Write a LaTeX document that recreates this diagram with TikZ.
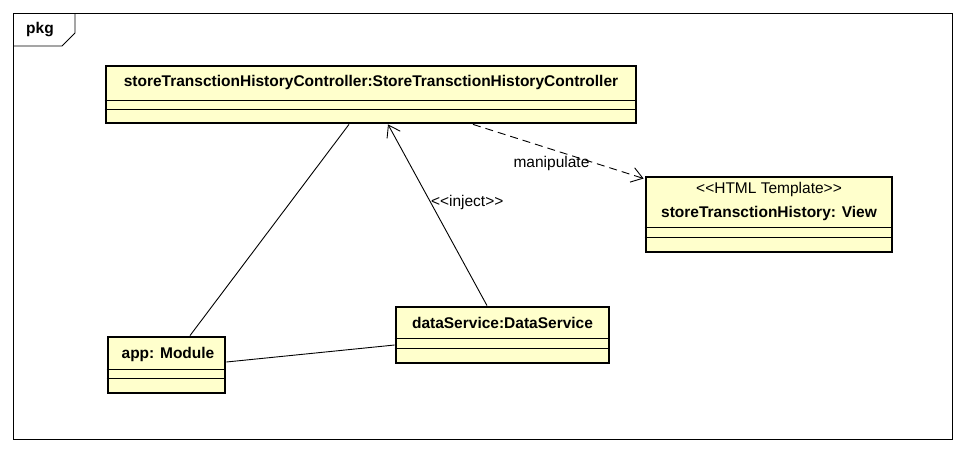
\documentclass[tikz,border=0pt]{standalone}
\usepackage{fontspec}
\setmainfont{Liberation Sans}
\usetikzlibrary{arrows.meta,positioning}
\definecolor{objfill}{RGB}{255,255,204}
\tikzset{
    obj box/.style={rectangle, draw=black, line width=2.8pt, fill=objfill, inner sep=0pt},
    obj name/.style={font=\fontsize{15.5}{18}\selectfont\bfseries, inner sep=0pt, align=center},
    obj stereo/.style={font=\fontsize{15.5}{18}\selectfont, inner sep=0pt},
    obj sep/.style={draw, line width=0.9pt},
    link/.style={draw, line width=0.9pt},
    dep/.style={link, dash pattern=on 8pt off 5pt},
    edge label/.style={font=\fontsize{15.5}{18}\selectfont, inner sep=0pt}
}

\begin{document}
\begin{tikzpicture}[x=1pt,y=-1pt,
	>={Straight Barb[length=11pt,width=15pt,line width=0.9pt]}]
	\useasboundingbox (0,0) rectangle (965,453);
	% package frame
	\draw[line width=0.9pt] (13,13) rectangle (952,439);
	\draw[line width=0.9pt] (13,46) -- (62,46) -- (75,33) -- (75,13);
	\node[obj name] (pkg) at (40,30) {pkg};

	% objects
	\node[obj box, minimum width=530, minimum height=57] (ctl) at (371,94.5) {};
	\node[obj name] (ctl name) at (371,82) {storeTransctionHistoryController:StoreTransctionHistoryController};

	\node[obj box, minimum width=246, minimum height=75] (view) at (769,214.5) {};
	\node[obj stereo] (view stereo) at (769,189) {<{}<HTML Template>{}>};
	\node[obj name] (view name) at (769,213) {storeTransctionHistory: View};

	\node[obj box, minimum width=213, minimum height=56] (data) at (502.5,335) {};
	\node[obj name] (data name) at (502.5,323) {dataService:DataService};

	\node[obj box, minimum width=117, minimum height=56] (app) at (166.5,365) {};
	\node[obj name] (app name) at (168,354) {app: Module};

	% compartments
	\foreach \n/\a/\b in {ctl/100/109, view/227/237, data/338/348, app/369/378} {
		\draw[obj sep] (\n.west |- 0,\a) -- (\n.east |- 0,\a);
		\draw[obj sep] (\n.west |- 0,\b) -- (\n.east |- 0,\b);
	}

	% links
	\draw[link] ([xshift=23.5pt]app.north) -- ([xshift=-22pt]ctl.south);
	\draw[link] ([yshift=3pt]app.east) -- ([yshift=-10pt]data.west);
	\draw[link,->] ([xshift=-15.5pt]data.north) -- node[edge label, pos=0.57, anchor=west] {<{}<inject>{}>} ([xshift=17pt]ctl.south);
	\draw[dep,->] ([xshift=102pt]ctl.south) -- node[edge label, pos=0.46, yshift=-14pt] {manipulate} ([xshift=-1pt,yshift=36pt]view.west);
\end{tikzpicture}
\end{document}
